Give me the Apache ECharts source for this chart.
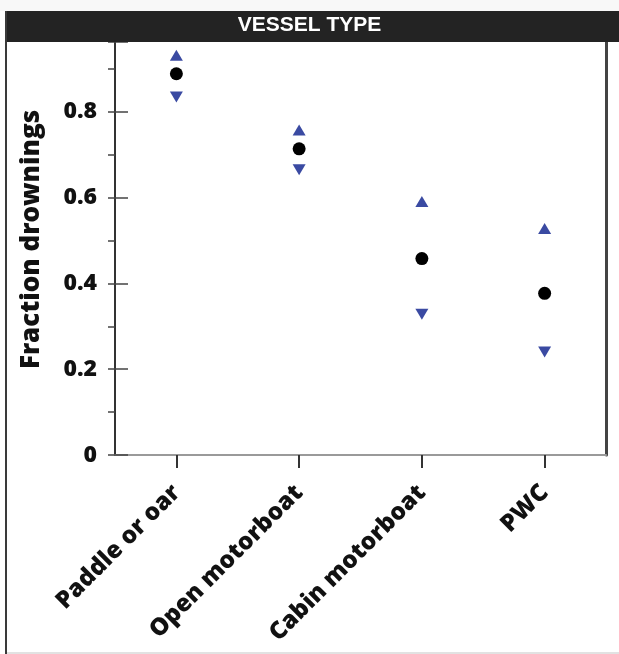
<!DOCTYPE html>
<html>
<head>
<meta charset="utf-8">
<script src="https://cdn.jsdelivr.net/npm/echarts@6/dist/echarts.min.js"></script>
<style>
html,body{margin:0;padding:0;background:#fff;}
#chart{width:619px;height:654px;}
</style>
</head>
<body>
<div id="chart"></div>
<script>
const categories = ['Paddle or oar', 'Open motorboat', 'Cabin motorboat', 'PWC'];
const upperValues = [0.932, 0.758, 0.591, 0.528];
const meanValues = [0.889, 0.714, 0.458, 0.377];
const lowerValues = [0.835, 0.665, 0.328, 0.240];
const yTickLabels = ['0', '0.2', '0.4', '0.6', '0.8'];
const headerTitle = 'VESSEL TYPE';
const yAxisTitle = 'Fraction drownings';

const chart = echarts.init(document.getElementById('chart'), null, {renderer: 'canvas'});
const labelFont = '"Open Sans", Lato, sans-serif';
const yMax = 0.963;

const option = {
  backgroundColor: '#ffffff',
  animation: false,
  graphic: [
    {type: 'rect', z: 100, shape: {x: 0, y: 0, width: 619, height: 11}, style: {fill: '#f8f8f8'}, silent: true},
    {type: 'rect', z: 100, shape: {x: 5, y: 11, width: 614, height: 31}, style: {fill: '#232323'}, silent: true},
    {type: 'line', z: 100, shape: {x1: 6, y1: 11, x2: 6, y2: 654}, style: {stroke: '#3a3a3a', lineWidth: 2}, silent: true},
    {type: 'line', z: 100, shape: {x1: 7, y1: 653, x2: 619, y2: 653}, style: {stroke: '#d8d8d8', lineWidth: 1.5}, silent: true},
    {type: 'text', z: 101, left: 'center', top: 15, style: {text: headerTitle, fill: '#ffffff', font: 'bold 21px "Liberation Sans", Arial, sans-serif'}, silent: true}
  ],
  grid: {left: 115, right: 13, top: 42, bottom: 199, containLabel: false},
  xAxis: {
    type: 'category',
    data: categories,
    boundaryGap: true,
    axisLine: {show: true, lineStyle: {color: '#9a9a9a', width: 2}},
    axisTick: {show: true, alignWithLabel: true, length: 13, inside: false, lineStyle: {color: '#333', width: 2}},
    axisLabel: {rotate: 45, margin: 34, color: '#111', fontFamily: labelFont, fontWeight: 800, fontSize: 24, interval: 0},
    splitLine: {show: false}
  },
  yAxis: [
    {
      type: 'value', min: 0, max: yMax, interval: 0.2, position: 'left',
      name: yAxisTitle, nameLocation: 'middle', nameGap: 70,
      nameTextStyle: {color: '#111', fontFamily: labelFont, fontWeight: 800, fontSize: 26, padding: [0, 0, 0, 18]},
      axisLine: {show: true, lineStyle: {color: '#333', width: 2}},
      axisTick: {show: true, inside: true, length: 13, lineStyle: {color: '#444', width: 1.5}},
      axisLabel: {
        margin: 18, color: '#111', fontFamily: labelFont, fontWeight: 800, fontSize: 23,
        formatter: function (v) { const i = Math.round(v / 0.2); return Math.abs(v - i * 0.2) < 1e-6 ? yTickLabels[i] : ''; }
      },
      splitLine: {show: false}
    },
    {
      type: 'value', min: 0, max: yMax, interval: 0.1, position: 'left',
      axisLine: {show: false},
      axisTick: {show: true, inside: false, length: 7, lineStyle: {color: '#444', width: 1.5}},
      axisLabel: {show: false},
      splitLine: {show: false}
    },
    {
      type: 'value', min: 0, max: yMax, position: 'right',
      axisLine: {show: true, lineStyle: {color: '#444', width: 3}},
      axisTick: {show: false}, axisLabel: {show: false}, splitLine: {show: false}
    }
  ],
  series: [
    {type: 'scatter', name: 'upper', data: upperValues, symbol: 'triangle', symbolSize: [13, 11], itemStyle: {color: '#3a4aa2', opacity: 1}},
    {type: 'scatter', name: 'mean', data: meanValues, symbol: 'circle', symbolSize: 13, itemStyle: {color: '#000', opacity: 1}},
    {type: 'scatter', name: 'lower', data: lowerValues, symbol: 'triangle', symbolRotate: 180, symbolSize: [13, 11], itemStyle: {color: '#3a4aa2', opacity: 1}}
  ]
};
chart.setOption(option);
</script>
</body>
</html>
